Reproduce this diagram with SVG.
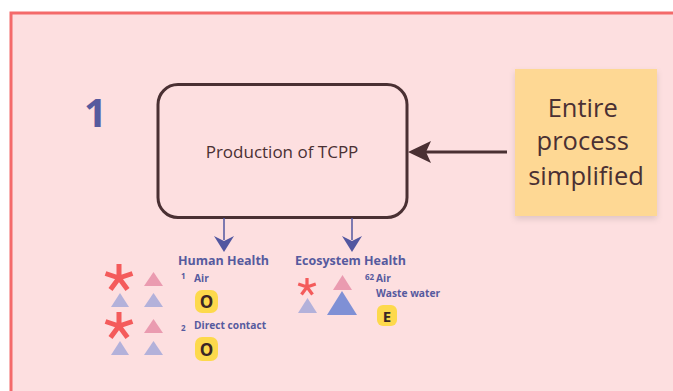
<svg xmlns="http://www.w3.org/2000/svg" width="673" height="391" viewBox="0 0 673 391">
  <defs>
    <style>
      .sans { font-family: "Open Sans", "Noto Sans", "Liberation Sans", sans-serif; }
      .hd { font-family: "Open Sans", "Noto Sans", sans-serif; font-weight: 700; fill: #565a9e; }
      .lbl { font-family: "Open Sans", "Noto Sans", sans-serif; font-weight: 700; fill: #565a9e; font-size: 10.2px; }
      .sup { font-family: "Open Sans", "Noto Sans", sans-serif; font-weight: 700; fill: #565a9e; font-size: 8px; }
      .badge { fill: #fdd94c; }
      .badgeText { font-family: "Open Sans", "Noto Sans", sans-serif; font-weight: 700; fill: #3b2626; text-anchor: middle; }
      .ast { fill: none; stroke: #f45b5b; stroke-width: 5; stroke-linecap: butt; }
      .pink { fill: #ea9bb0; }
      .lav { fill: #b3b1da; }
      .blue { fill: #7f90d5; }
    </style>
    <!-- five-armed asterisk mark, centred on the origin -->
    <path id="star" d="M0,0 L0,-14 M0,0 L-13.5,-4.5 M0,0 L13.5,-4.5 M0,0 L-8.5,11.5 M0,0 L8.5,11.5"/>
    <filter id="shadow" x="-20%" y="-20%" width="140%" height="150%">
      <feDropShadow dx="0" dy="3" stdDeviation="3" flood-color="#000" flood-opacity="0.12"/>
    </filter>
  </defs>

  <!-- background frame -->
  <rect x="0" y="0" width="673" height="391" fill="#ffffff"/>
  <rect x="11" y="13" width="680" height="400" fill="#fddfe0" stroke="#f46a6a" stroke-width="3"/>

  <!-- section number -->
  <text x="95.5" y="127" class="hd" font-size="40" text-anchor="middle" fill="#5a5ea6">1</text>

  <!-- process box -->
  <g id="production">
    <rect x="158" y="84.5" width="249" height="133" rx="20" fill="#fddfe0" stroke="#4a3033" stroke-width="3"/>
    <text x="282" y="158" class="sans" font-size="17" fill="#4a3033" text-anchor="middle">Production of TCPP</text>
  </g>

  <!-- sticky note -->
  <g id="sticky">
    <rect x="515" y="69" width="142" height="147" fill="#fed894" filter="url(#shadow)"/>
    <text class="sans" font-size="25.5" fill="#4a3033" text-anchor="middle">
      <tspan x="586" y="117">Entire</tspan>
      <tspan x="586" y="150">process</tspan>
      <tspan x="586" y="185">simplified</tspan>
    </text>
  </g>

  <!-- connectors -->
  <g id="connectors">
    <line x1="507" y1="152" x2="424" y2="152" stroke="#4a3033" stroke-width="3"/>
    <path d="M408,152 L431,141 L426,152 L431,163 Z" fill="#4a3033"/>
    <line x1="224" y1="218" x2="224" y2="240" stroke="#5257a0" stroke-width="1.5"/>
    <path d="M214,236 L224,241 L234,236 L224,252 Z" fill="#5257a0"/>
    <line x1="352" y1="218" x2="352" y2="240" stroke="#5257a0" stroke-width="1.5"/>
    <path d="M342,236 L352,241 L362,236 L352,252 Z" fill="#5257a0"/>
  </g>

  <!-- human health -->
  <g id="human-health">
    <text x="178" y="265" class="hd" font-size="12.5">Human Health</text>
    <text x="181" y="279" class="sup">1</text>
    <text x="194" y="282" class="lbl">Air</text>
    <rect x="195" y="290" width="23" height="23" rx="7" class="badge"/>
    <text x="206.5" y="308" class="badgeText" font-size="17">O</text>
    <text x="181" y="331" class="sup">2</text>
    <text x="194" y="329" class="lbl">Direct contact</text>
    <rect x="195" y="337" width="23" height="24" rx="7" class="badge"/>
    <text x="206.5" y="355.5" class="badgeText" font-size="17">O</text>

    <use href="#star" x="119" y="278" class="ast"/>
    <path d="M144,286 L153.5,272 L163,286 Z" class="pink"/>
    <path d="M111,307 L120,293 L129,307 Z" class="lav"/>
    <path d="M144,307 L153.5,293 L163,307 Z" class="lav"/>
    <use href="#star" x="119" y="326" class="ast"/>
    <path d="M144,333 L153.5,319 L163,333 Z" class="pink"/>
    <path d="M111,355 L120,341 L129,355 Z" class="lav"/>
    <path d="M144,355 L153.5,341 L163,355 Z" class="lav"/>
  </g>

  <!-- ecosystem health -->
  <g id="ecosystem-health">
    <text x="295" y="265" class="hd" font-size="12.5">Ecosystem Health</text>
    <text x="365" y="280" class="sup">62</text>
    <text x="376" y="282" class="lbl">Air</text>
    <text x="376" y="296.5" class="lbl">Waste water</text>
    <rect x="377" y="305" width="20" height="21" rx="6" class="badge"/>
    <text x="387" y="321.5" class="badgeText" font-size="15">E</text>

    <g transform="translate(307,287) scale(0.65)">
      <use href="#star" class="ast" stroke-width="5.5"/>
    </g>
    <path d="M333,290 L342.5,275 L352,290 Z" class="pink"/>
    <path d="M298,313 L307.5,298 L317,313 Z" class="lav"/>
    <path d="M327,315 L342,291 L357,315 Z" class="blue"/>
  </g>
</svg>
